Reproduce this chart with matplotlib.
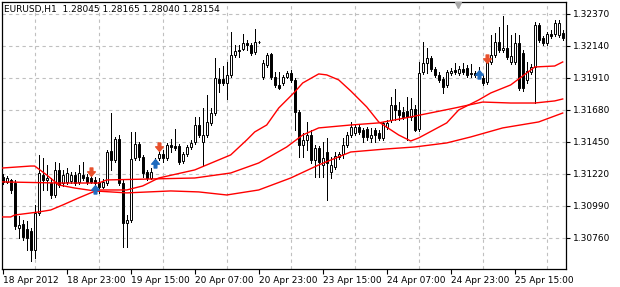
import numpy as np
import matplotlib.pyplot as plt
from matplotlib.path import Path

title = "EURUSD,H1  1.28045 1.28165 1.28040 1.28154"

# hourly candles, left to right
opens = [1.31198, 1.31163, 1.31177, 1.31155, 1.30832, 1.30861, 1.30825, 1.30810, 1.30674, 1.30940,
         1.31213, 1.31177, 1.31155, 1.31069, 1.31249, 1.31155, 1.31163, 1.31170, 1.31213, 1.31163,
         1.31213, 1.31198, 1.31191, 1.31177, 1.31163, 1.31127, 1.31155, 1.31385, 1.31321, 1.31472,
         1.31155, 1.30868, 1.30889, 1.31335, 1.31436, 1.31342, 1.31234, 1.31191, 1.31285, 1.31335,
         1.31364, 1.31335, 1.31428, 1.31421, 1.31421, 1.31313, 1.31364, 1.31414, 1.31450, 1.31572,
         1.31450, 1.31500, 1.31587, 1.31658, 1.31903, 1.31903, 1.31874, 1.31932, 1.32075, 1.32111,
         1.32118, 1.32162, 1.32147, 1.32097, 1.32170, 1.31917, 1.32003, 1.32082, 1.31917, 1.31860,
         1.31874, 1.31917, 1.31946, 1.31896, 1.31666, 1.31428, 1.31464, 1.31500, 1.31321, 1.31407,
         1.31285, 1.31378, 1.31234, 1.31270, 1.31342, 1.31364, 1.31428, 1.31500, 1.31515, 1.31558,
         1.31536, 1.31543, 1.31479, 1.31536, 1.31515, 1.31479, 1.31558, 1.31608, 1.31716, 1.31680,
         1.31666, 1.31673, 1.31630, 1.31687, 1.31543, 1.31953, 1.32018, 1.32054, 1.31975, 1.31932,
         1.31903, 1.31860, 1.31946, 1.31967, 1.31946, 1.31975, 1.31982, 1.31946, 1.31946, 1.31939,
         1.31910, 1.31881, 1.32025, 1.32075, 1.32169, 1.32111, 1.32126, 1.32025, 1.32025, 1.32162,
         1.32090, 1.31896, 1.31953, 1.31989, 1.32291, 1.32197, 1.32162, 1.32226, 1.32226, 1.32219,
         1.32233]
closes = [1.31163, 1.31191, 1.31105, 1.30846, 1.30853, 1.30767, 1.30760, 1.30674, 1.30940, 1.31227,
          1.31177, 1.31191, 1.31069, 1.31249, 1.31141, 1.31213, 1.31227, 1.31213, 1.31155, 1.31227,
          1.31191, 1.31163, 1.31163, 1.31155, 1.31127, 1.31163, 1.31378, 1.31321, 1.31472, 1.31155,
          1.30868, 1.30889, 1.31328, 1.31436, 1.31342, 1.31227, 1.31191, 1.31234, 1.31321, 1.31364,
          1.31335, 1.31428, 1.31414, 1.31407, 1.31306, 1.31364, 1.31414, 1.31443, 1.31572, 1.31500,
          1.31500, 1.31594, 1.31658, 1.31910, 1.31874, 1.31874, 1.31932, 1.32075, 1.32104, 1.32104,
          1.32162, 1.32147, 1.32090, 1.32169, 1.32169, 1.32018, 1.32075, 1.31917, 1.31860, 1.31838,
          1.31917, 1.31946, 1.31896, 1.31666, 1.31428, 1.31464, 1.31500, 1.31321, 1.31407, 1.31306,
          1.31335, 1.31299, 1.31285, 1.31349, 1.31364, 1.31428, 1.31500, 1.31558, 1.31558, 1.31522,
          1.31486, 1.31486, 1.31500, 1.31500, 1.31479, 1.31587, 1.31587, 1.31716, 1.31680, 1.31644,
          1.31630, 1.31630, 1.31687, 1.31536, 1.31946, 1.32018, 1.32054, 1.31975, 1.31932, 1.31896,
          1.31845, 1.31953, 1.31960, 1.31953, 1.31975, 1.31953, 1.31932, 1.31939, 1.31932, 1.31946,
          1.31874, 1.32025, 1.32075, 1.32169, 1.32111, 1.32126, 1.32061, 1.32068, 1.32162, 1.31838,
          1.31838, 1.31960, 1.31989, 1.32291, 1.32183, 1.32162, 1.32226, 1.32212, 1.32305, 1.32305,
          1.32197]
highs = [1.31220, 1.31206, 1.31184, 1.31177, 1.30918, 1.30889, 1.30882, 1.30832, 1.30997, 1.31357,
         1.31335, 1.31285, 1.31191, 1.31306, 1.31299, 1.31249, 1.31263, 1.31234, 1.31234, 1.31285,
         1.31306, 1.31220, 1.31249, 1.31198, 1.31191, 1.31184, 1.31392, 1.31658, 1.31486, 1.31500,
         1.31177, 1.30925, 1.31522, 1.31522, 1.31450, 1.31357, 1.31249, 1.31263, 1.31335, 1.31392,
         1.31392, 1.31443, 1.31472, 1.31543, 1.31436, 1.31378, 1.31428, 1.31464, 1.31630, 1.31630,
         1.31694, 1.31788, 1.31694, 1.32054, 1.31982, 1.31996, 1.32025, 1.32241, 1.32147, 1.32147,
         1.32226, 1.32183, 1.32162, 1.32262, 1.32176, 1.32039, 1.32090, 1.32090, 1.31953, 1.31953,
         1.31932, 1.31960, 1.31967, 1.31910, 1.31680, 1.31515, 1.31594, 1.31536, 1.31428, 1.31421,
         1.31450, 1.31479, 1.31342, 1.31378, 1.31378, 1.31479, 1.31522, 1.31594, 1.31572, 1.31572,
         1.31551, 1.31558, 1.31551, 1.31551, 1.31536, 1.31594, 1.31608, 1.31773, 1.31831, 1.31737,
         1.31702, 1.31773, 1.31766, 1.31716, 1.32025, 1.32169, 1.32126, 1.32068, 1.31989, 1.31953,
         1.31917, 1.31967, 1.31982, 1.32018, 1.31996, 1.32018, 1.32003, 1.32011, 1.31960, 1.31989,
         1.31932, 1.32039, 1.32219, 1.32233, 1.32277, 1.32356, 1.32291, 1.32219, 1.32233, 1.32219,
         1.32111, 1.32025, 1.32011, 1.32313, 1.32305, 1.32212, 1.32241, 1.32255, 1.32327, 1.32327,
         1.32255]
lows = [1.31148, 1.31155, 1.31084, 1.30825, 1.30760, 1.30746, 1.30674, 1.30595, 1.30617, 1.30925,
        1.31105, 1.31105, 1.31048, 1.31055, 1.31127, 1.31134, 1.31148, 1.31155, 1.31141, 1.31148,
        1.31177, 1.31148, 1.31155, 1.31141, 1.31084, 1.31119, 1.31141, 1.31249, 1.31306, 1.31141,
        1.30695, 1.30695, 1.30875, 1.31321, 1.31321, 1.31198, 1.31177, 1.31184, 1.31277, 1.31321,
        1.31306, 1.31321, 1.31378, 1.31392, 1.31292, 1.31299, 1.31349, 1.31400, 1.31436, 1.31486,
        1.31277, 1.31486, 1.31572, 1.31644, 1.31809, 1.31860, 1.31759, 1.31917, 1.32061, 1.32061,
        1.32111, 1.32111, 1.32075, 1.32082, 1.32162, 1.31903, 1.31989, 1.31903, 1.31845, 1.31831,
        1.31860, 1.31910, 1.31881, 1.31536, 1.31342, 1.31342, 1.31392, 1.31299, 1.31198, 1.31198,
        1.31198, 1.31033, 1.31191, 1.31256, 1.31328, 1.31335, 1.31414, 1.31486, 1.31500, 1.31507,
        1.31450, 1.31464, 1.31450, 1.31450, 1.31464, 1.31464, 1.31543, 1.31594, 1.31608, 1.31608,
        1.31615, 1.31464, 1.31608, 1.31529, 1.31529, 1.31939, 1.31946, 1.31960, 1.31917, 1.31881,
        1.31802, 1.31845, 1.31932, 1.31939, 1.31932, 1.31939, 1.31917, 1.31917, 1.31917, 1.31924,
        1.31860, 1.31867, 1.32011, 1.32061, 1.32097, 1.32097, 1.32047, 1.32011, 1.32011, 1.31824,
        1.31817, 1.31874, 1.31939, 1.31730, 1.32169, 1.32147, 1.32147, 1.32197, 1.32212, 1.32205,
        1.32183]

# the three red indicator lines (bar index, price)
line_a_idx = [0, 7, 8, 11, 14, 18, 23, 31, 42, 49, 56, 64, 72, 79, 87, 96, 103, 111, 117, 125, 134, 140]
line_a = [1.31263, 1.31277, 1.31277, 1.31213, 1.31141, 1.31119, 1.31098, 1.31084, 1.31098, 1.31091, 1.31069,
          1.31105, 1.31191, 1.31285, 1.31378, 1.31400, 1.31414, 1.31443, 1.31486, 1.31551, 1.31594, 1.31658]
line_b_idx = [0, 14, 24, 26, 37, 48, 57, 64, 71, 75, 79, 87, 94, 102, 113, 120, 127, 133, 138, 140]
line_b = [1.31163, 1.31155, 1.31155, 1.31177, 1.31184, 1.31191, 1.31227, 1.31299, 1.31414, 1.31500,
          1.31551, 1.31572, 1.31587, 1.31630, 1.31694, 1.31737, 1.31730, 1.31730, 1.31745, 1.31759]
line_c_idx = [0, 2, 3, 9, 12, 15, 19, 22, 24, 31, 35, 39, 48, 57, 61, 63, 66, 69, 73, 75, 79, 81, 84, 87,
              91, 94, 99, 102, 104, 111, 114, 119, 122, 127, 132, 133, 138, 140]
line_c = [1.30911, 1.30911, 1.30925, 1.30947, 1.30961, 1.30997, 1.31048, 1.31084, 1.31105, 1.31105,
          1.31134, 1.31191, 1.31249, 1.31357, 1.31464, 1.31522, 1.31572, 1.31694, 1.31809, 1.31874,
          1.31939, 1.31932, 1.31896, 1.31817, 1.31702, 1.31594, 1.31500, 1.31457, 1.31479, 1.31587,
          1.31680, 1.31752, 1.31802, 1.31860, 1.31967, 1.31989, 1.31996, 1.32025]

# signal arrows
sell_idx = [22, 39, 121]
sell_px = [1.31234, 1.31414, 1.32047]
buy_idx = [23, 38, 119]
buy_px = [1.31112, 1.31299, 1.31939]

price_ticks = [1.30760, 1.30990, 1.31220, 1.31450, 1.31680, 1.31910, 1.32140, 1.32370]
time_idx = [0, 16, 32, 48, 64, 80, 96, 112, 128]
time_labels = ["18 Apr 2012", "18 Apr 23:00", "19 Apr 15:00", "20 Apr 07:00", "20 Apr 23:00",
               "23 Apr 15:00", "24 Apr 07:00", "24 Apr 23:00", "25 Apr 15:00"]

plt.rcParams['font.family'] = ['DejaVu Sans']
plt.rcParams['font.size'] = 6.5

fig = plt.figure(figsize=(6.2, 2.87), dpi=100)
ax = fig.add_axes([2 / 620, 18 / 287, 564 / 620, 267 / 287])

x = np.arange(len(opens))
o = np.array(opens)
c = np.array(closes)
h = np.array(highs)
l = np.array(lows)
up = c >= o

ax.vlines(x, l, h, color='black', lw=0.7, zorder=3, antialiased=False)
ax.bar(x[up], c[up] - o[up], bottom=o[up], width=0.58, facecolor='white',
       edgecolor='black', lw=0.7, zorder=4)
ax.bar(x[~up], c[~up] - o[~up], bottom=o[~up], width=0.58, facecolor='black',
       edgecolor='black', lw=0.7, zorder=4)

for idx, vals in [(line_a_idx, line_a), (line_b_idx, line_b), (line_c_idx, line_c)]:
    ax.plot(idx, vals, color='#ff0000', lw=1.0, zorder=5)

down_arrow = Path([(-0.3, 1.0), (0.3, 1.0), (0.3, 0.15), (0.85, 0.15), (0, -0.85), (-0.85, 0.15),
                   (-0.3, 0.15), (-0.3, 1.0)], closed=True)
up_arrow = Path([(px, -py) for px, py in down_arrow.vertices], closed=True)
ax.plot(sell_idx, sell_px, ls='none', marker=down_arrow, ms=6.5, color='#e8502c', zorder=6)
ax.plot(buy_idx, buy_px, ls='none', marker=up_arrow, ms=6.5, color='#1f6cc0', zorder=6)

# chart shift marker at the top
ax.plot([113.8], [0.99], marker='v', ms=5, color='#a8a8a8', ls='none',
        transform=ax.get_xaxis_transform(), clip_on=False, zorder=7)

ax.set_xlim(-0.175, 140.825)
ax.set_ylim(1.30537, 1.32456)

ax.yaxis.tick_right()
ax.set_yticks(price_ticks)
ax.set_yticklabels(["%.5f" % p for p in price_ticks])
ax.set_xticks(time_idx)
ax.set_xticklabels(time_labels, ha='left')
ax.set_xticks(np.arange(0, 141, 8), minor=True)
ax.tick_params(axis='x', which='major', length=3.5, width=0.8, pad=1.5, direction='out')
ax.tick_params(axis='x', which='minor', length=0)
ax.tick_params(axis='y', length=3, width=0.8, pad=2, direction='out')

grid_kw = dict(color='#c0c0c0', lw=0.8, ls=(0, (3, 3)))
ax.grid(which='minor', axis='x', **grid_kw)
ax.grid(which='major', axis='y', **grid_kw)
ax.set_axisbelow(True)
for s in ax.spines.values():
    s.set_linewidth(0.9)
    s.set_color('black')

ax.text(0.004, 0.99, title, transform=ax.transAxes, ha='left', va='top', fontsize=6.5)

fig.savefig('out.png', dpi=100)
